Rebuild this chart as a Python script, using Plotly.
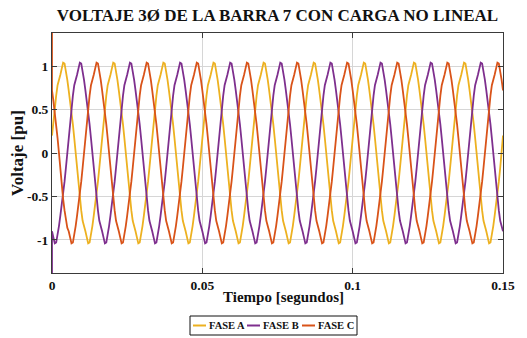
import plotly.graph_objects as go

# ---------------- data ----------------
fase_names = ["FASE A", "FASE B", "FASE C"]
fase_colors = ["#EDB120", "#7E2F8E", "#D95319"]

frequency_hz = 60
cycles = 9
samples_per_cycle = 36
# one half cycle of the distorted waveform (10 degree steps)
half_cycle_profile = [0.00, 0.20, 0.38, 0.53, 0.66, 0.78, 0.86, 0.90, 0.97,
                      1.04, 1.03, 0.95, 0.84, 0.72, 0.60, 0.47, 0.33, 0.17]
# phase shift of each phase, in samples (10 degrees each)
phase_offset_samples = [1, -11, 13]
# start-up transient value at t = 0 (None = no transient)
startup_values = [None, -1.7, 1.7]

x_ticks = [0, 0.05, 0.1, 0.15]
x_tick_labels = ["0", "0.05", "0.1", "0.15"]
y_ticks = [-1, -0.5, 0, 0.5, 1]
y_tick_labels = ["-1", "-0.5", "0", "0.5", "1"]

title_text = "VOLTAJE 3Ø DE LA BARRA 7 CON CARGA NO LINEAL"
x_title = "Tiempo [segundos]"
y_title = "Voltaje [pu]"

# ---------------- build ----------------
cycle_profile = half_cycle_profile + [-v for v in half_cycle_profile]
dt = 1.0 / (frequency_hz * samples_per_cycle)
n = cycles * samples_per_cycle + 1
t = [k * dt for k in range(n)]

FONT = "Liberation Serif, Times New Roman, serif"
fig = go.Figure()
for name, color, off, start in zip(fase_names, fase_colors, phase_offset_samples, startup_values):
    y = [cycle_profile[(k + off) % samples_per_cycle] for k in range(n)]
    tt = list(t)
    if start is not None:
        tt = [0.0] + tt
        y = [start] + y
    fig.add_trace(go.Scatter(x=tt, y=y, mode="lines", name=name,
                             line=dict(color=color, width=1.8), showlegend=False))

axis_common = dict(
    showline=True, linecolor="#3a3a3a", linewidth=1, mirror="allticks",
    ticks="inside", ticklen=5, tickcolor="#3a3a3a",
    showgrid=True, gridcolor="#d6d6d6", gridwidth=1, zeroline=False,
    tickfont=dict(family=FONT, size=13.5, color="#111", weight="bold"),
)

fig.update_layout(
    width=527, height=338,
    margin=dict(l=52, r=24, t=33, b=65),
    paper_bgcolor="white", plot_bgcolor="white",
    title=dict(text=title_text, x=0.5, xref="paper", xanchor="center",
               y=1 - 15 / 338, yref="container", yanchor="middle",
               font=dict(family=FONT, size=17, color="#111", weight="bold")),
    xaxis=dict(range=[0, 0.15], tickvals=x_ticks, ticktext=x_tick_labels, **axis_common),
    yaxis=dict(range=[-1.38, 1.38], tickvals=y_ticks, ticktext=y_tick_labels, **axis_common),
)

# axis titles
fig.add_annotation(text=x_title, xref="paper", yref="paper", x=(283 - 52) / 451, y=(273 - 297) / 240,
                   showarrow=False, xanchor="center", yanchor="middle",
                   font=dict(family=FONT, size=15, color="#111", weight="bold"))
fig.add_annotation(text=y_title, xref="paper", yref="paper", x=(17 - 52) / 451, y=0.5,
                   showarrow=False, textangle=-90, xanchor="center", yanchor="middle",
                   font=dict(family=FONT, size=17, color="#111", weight="bold"))

# legend (boxed, below the axes)
def px_x(px):
    return (px - 52) / 451


def px_y(py):
    return (273 - py) / 240


fig.add_shape(type="rect", xref="paper", yref="paper",
              x0=px_x(190), x1=px_x(357), y0=px_y(335), y1=px_y(316),
              line=dict(color="#111", width=1), fillcolor="white")
line_starts = [193, 247, 302]
for name, color, lx in zip(fase_names, fase_colors, line_starts):
    fig.add_shape(type="line", xref="paper", yref="paper",
                  x0=px_x(lx), x1=px_x(lx + 13), y0=px_y(325.5), y1=px_y(325.5),
                  line=dict(color=color, width=2))
    fig.add_annotation(text=name, xref="paper", yref="paper", x=px_x(lx + 14), y=px_y(325.5),
                       showarrow=False, xanchor="left", yanchor="middle",
                       font=dict(family=FONT, size=10.5, color="#111", weight="bold"))

fig.write_html("out.html")
